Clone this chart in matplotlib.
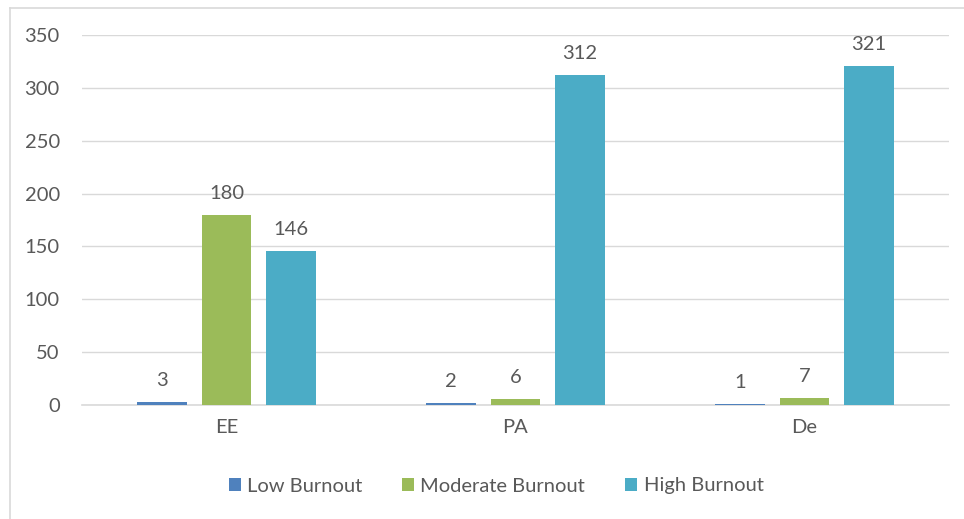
import matplotlib.pyplot as plt
from matplotlib.lines import Line2D
import numpy as np

categories = ["EE", "PA", "De"]
series_names = ["Low Burnout", "Moderate Burnout", "High Burnout"]
low = [3, 2, 1]
moderate = [180, 6, 7]
high = [146, 312, 321]
colors = ["#4f81bd", "#9bbb59", "#4bacc6"]
yticks = [0, 50, 100, 150, 200, 250, 300, 350]

plt.rcParams['font.family'] = ['Lato', 'DejaVu Sans']
text_color = "#595959"

fig = plt.figure(figsize=(9.64, 5.19), dpi=100)
# frame lines along the left and top edges
fig.lines.append(Line2D([9.5/964, 9.5/964], [0, 1 - 8/519], transform=fig.transFigure,
                        color="#d9d9d9", linewidth=1.2))
fig.lines.append(Line2D([9.5/964, 1], [1 - 8/519, 1 - 8/519], transform=fig.transFigure,
                        color="#d9d9d9", linewidth=1.2))
ax = fig.add_axes([82/964, 1 - 405/519, 867/964, 370/519])

x = np.arange(len(categories))
width = 0.173
step = 0.222
for i, (vals, name) in enumerate(zip([low, moderate, high], series_names)):
    pos = x + (i - 1) * step
    ax.bar(pos, vals, width=width, color=colors[i], label=name, zorder=3)
    for p, v in zip(pos, vals):
        ax.text(p, v + 12, str(v), ha="center", va="bottom", fontsize=14.5, color=text_color)

ax.set_xlim(-0.5, 2.5)
ax.set_ylim(0, 350)
ax.set_yticks(yticks)
ax.set_xticks(x)
ax.set_xticklabels(categories)
ax.grid(axis="y", color="#d9d9d9", linewidth=1.0, zorder=0)
for s in ["top", "right", "left"]:
    ax.spines[s].set_visible(False)
ax.spines["bottom"].set_color("#d9d9d9")
ax.spines["bottom"].set_linewidth(1.2)
ax.tick_params(axis="both", length=0, labelsize=14.5, colors=text_color)
ax.tick_params(axis="y", pad=16)
ax.tick_params(axis="x", pad=10)

leg = fig.legend(loc="center", bbox_to_anchor=(0.5 + 14/964, 1 - 486/519), ncol=3, frameon=False,
                 fontsize=14.5, handlelength=0.6, handleheight=0.6, columnspacing=2.0,
                 handletextpad=0.3)
for t in leg.get_texts():
    t.set_color(text_color)

fig.savefig("out.png", dpi=100)
